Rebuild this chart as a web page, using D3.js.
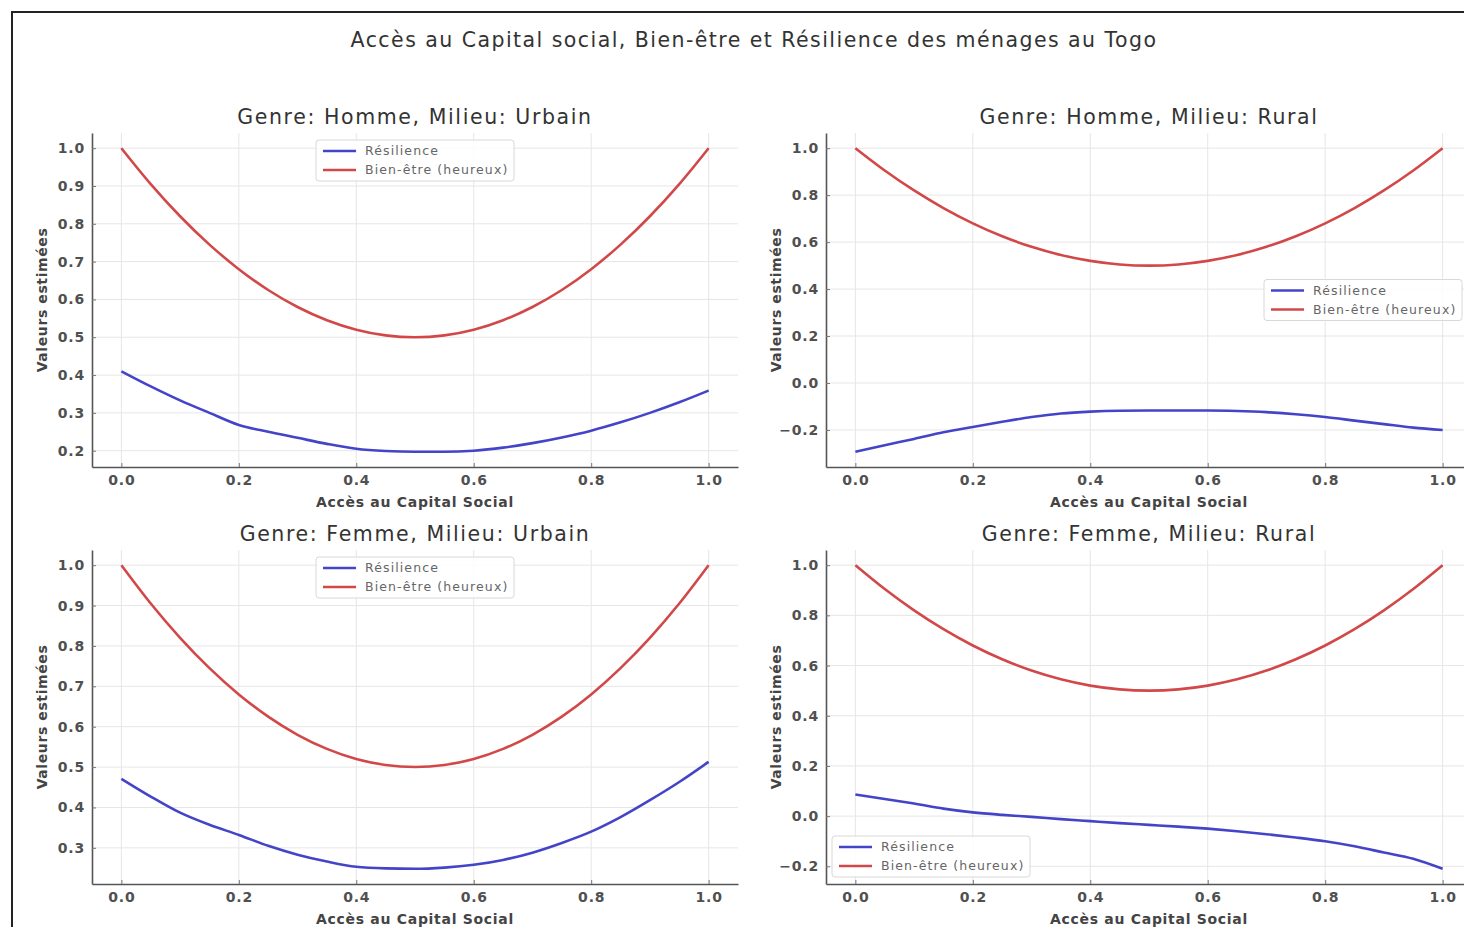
<!DOCTYPE html>
<html>
<head>
<meta charset="utf-8">
<script src="https://cdn.jsdelivr.net/npm/d3@7"></script>
<style>
  body { margin: 0; background: #fff; }
  svg text { font-family: "DejaVu Sans", sans-serif; }
</style>
</head>
<body>
<script>
const mainTitle = "Accès au Capital social, Bien-être et Résilience des ménages au Togo";
const seriesNames = ["Résilience", "Bien-être (heureux)"];
const xLabel = "Accès au Capital Social";
const yLabel = "Valeurs estimées";

const acces = [0, 0.05, 0.1, 0.15, 0.2, 0.25, 0.3, 0.35, 0.4, 0.45, 0.5,
  0.55, 0.6, 0.65, 0.7, 0.75, 0.8, 0.85, 0.9, 0.95, 1.0];
const xTicks = [0, 0.2, 0.4, 0.6, 0.8, 1.0];

// bien-être (same shape everywhere)
const bienEtre = [1.0, 0.905, 0.82, 0.745, 0.68, 0.625, 0.58, 0.545, 0.52, 0.505, 0.5,
  0.505, 0.52, 0.545, 0.58, 0.625, 0.68, 0.745, 0.82, 0.905, 1.0];

const resHommeUrbain = [0.41, 0.37, 0.333, 0.30, 0.268, 0.25, 0.234, 0.218, 0.205, 0.199, 0.197,
  0.197, 0.20, 0.208, 0.22, 0.235, 0.253, 0.275, 0.30, 0.328, 0.359];
const resHommeRural = [-0.293, -0.265, -0.238, -0.21, -0.187, -0.165, -0.145, -0.13, -0.122, -0.118, -0.117,
  -0.117, -0.117, -0.119, -0.124, -0.133, -0.145, -0.16, -0.175, -0.19, -0.2];
const resFemmeUrbain = [0.471, 0.427, 0.387, 0.357, 0.332, 0.305, 0.283, 0.266, 0.253, 0.249, 0.248,
  0.251, 0.258, 0.27, 0.288, 0.312, 0.34, 0.376, 0.418, 0.463, 0.513];
const resFemmeRural = [0.086, 0.068, 0.05, 0.03, 0.015, 0.005, -0.003, -0.012, -0.02, -0.028, -0.035,
  -0.042, -0.05, -0.06, -0.072, -0.085, -0.10, -0.12, -0.145, -0.17, -0.21];

const panelTitles = [
  "Genre: Homme, Milieu: Urbain", "Genre: Homme, Milieu: Rural",
  "Genre: Femme, Milieu: Urbain", "Genre: Femme, Milieu: Rural"
];
const yTicks = [
  [0.2, 0.3, 0.4, 0.5, 0.6, 0.7, 0.8, 0.9, 1.0],
  [-0.2, 0, 0.2, 0.4, 0.6, 0.8, 1.0],
  [0.3, 0.4, 0.5, 0.6, 0.7, 0.8, 0.9, 1.0],
  [-0.2, 0, 0.2, 0.4, 0.6, 0.8, 1.0]
];
const resilience = [resHommeUrbain, resHommeRural, resFemmeUrbain, resFemmeRural];
const legendPos = ["upper center", "center right", "upper center", "lower left"];

const W = 1464, H = 927;
const colors = ["#4444c8", "#d24848"];
const axW = 646, axH = 334;
const origins = [[92, 133], [826, 133], [92, 550], [826, 550]];

const svg = d3.select("body").append("svg")
  .attr("width", W).attr("height", H)
  .style("display", "block");

svg.append("rect").attr("width", W).attr("height", H).attr("fill", "#fff");

// outer frame (top & left visible)
svg.append("path")
  .attr("d", `M12,${H} L12,12 L${W},12`)
  .attr("fill", "none").attr("stroke", "#222").attr("stroke-width", 2);

svg.append("text")
  .attr("x", 754).attr("y", 47)
  .attr("text-anchor", "middle")
  .attr("font-size", 20.5).attr("fill", "#333")
  .attr("letter-spacing", 1.45)
  .text(mainTitle);

const fmt = d3.format(".1f");

panelTitles.forEach((title, i) => {
  const [ox, oy] = origins[i];
  const series = [resilience[i], bienEtre];
  const allVals = series.flat();
  const lo = d3.min(allVals), hi = d3.max(allVals);
  const pad = (hi - lo) * 0.05;

  const x = d3.scaleLinear().domain([-0.05, 1.05]).range([0, axW]);
  const y = d3.scaleLinear().domain([lo - pad, hi + pad]).range([axH, 0]);

  const g = svg.append("g").attr("transform", `translate(${ox},${oy})`);

  // grid
  g.append("g").selectAll("line").data(xTicks).join("line")
    .attr("x1", d => x(d)).attr("x2", d => x(d))
    .attr("y1", 0).attr("y2", axH)
    .attr("stroke", "#e6e6e6").attr("stroke-width", 1);
  g.append("g").selectAll("line").data(yTicks[i]).join("line")
    .attr("x1", 0).attr("x2", axW)
    .attr("y1", d => y(d)).attr("y2", d => y(d))
    .attr("stroke", "#e6e6e6").attr("stroke-width", 1);

  // axes
  const xAxis = g.append("g").attr("transform", `translate(0,${axH})`)
    .call(d3.axisBottom(x).tickValues(xTicks).tickFormat(fmt).tickSizeInner(-4).tickSizeOuter(0).tickPadding(8));
  const yAxis = g.append("g")
    .call(d3.axisLeft(y).tickValues(yTicks[i]).tickFormat(fmt).tickSizeInner(-4).tickSizeOuter(0).tickPadding(7));
  [xAxis, yAxis].forEach(a => {
    a.select(".domain").attr("stroke", "#555").attr("stroke-width", 1.6);
    a.selectAll(".tick line").attr("stroke", "#777");
    a.selectAll(".tick text").attr("fill", "#505050").attr("font-size", 14)
      .attr("font-weight", "bold").attr("letter-spacing", 0.8)
      .style("font-family", "'DejaVu Sans', sans-serif");
  });

  // titles
  g.append("text")
    .attr("x", axW / 2).attr("y", -9)
    .attr("text-anchor", "middle")
    .attr("font-size", 20.5).attr("fill", "#333")
    .attr("letter-spacing", 1.6)
    .text(title);
  g.append("text")
    .attr("x", axW / 2).attr("y", axH + 40)
    .attr("text-anchor", "middle")
    .attr("font-size", 14).attr("font-weight", "bold").attr("fill", "#444")
    .attr("letter-spacing", 0.7)
    .text(xLabel);
  g.append("text")
    .attr("transform", `translate(${-45},${axH / 2}) rotate(-90)`)
    .attr("text-anchor", "middle")
    .attr("font-size", 14).attr("font-weight", "bold").attr("fill", "#444")
    .attr("letter-spacing", 0.6)
    .text(yLabel);

  // lines
  const line = d3.line()
    .x((d, k) => x(acces[k]))
    .y(d => y(d))
    .curve(d3.curveMonotoneX);
  series.forEach((vals, s) => {
    g.append("path")
      .datum(vals)
      .attr("fill", "none")
      .attr("stroke", colors[s])
      .attr("stroke-width", 2.6)
      .attr("d", line);
  });

  // legend
  const lw = 198, lh = 41;
  let lx, ly;
  if (legendPos[i] === "upper center") { lx = axW / 2 - lw / 2; ly = 7; }
  else if (legendPos[i] === "center right") { lx = axW - lw - 10; ly = axH / 2 - lh / 2; }
  else { lx = 6; ly = axH - lh - 7; }
  const leg = g.append("g").attr("transform", `translate(${lx},${ly})`);
  leg.append("rect")
    .attr("width", lw).attr("height", lh).attr("rx", 3)
    .attr("fill", "#fff").attr("fill-opacity", 0.85)
    .attr("stroke", "#d8d8d8");
  seriesNames.forEach((name, s) => {
    const yy = 11 + s * 19;
    leg.append("line")
      .attr("x1", 7).attr("x2", 40).attr("y1", yy).attr("y2", yy)
      .attr("stroke", colors[s]).attr("stroke-width", 2.6);
    leg.append("text")
      .attr("x", 49).attr("y", yy + 4)
      .attr("font-size", 12.5).attr("fill", "#666")
      .attr("letter-spacing", 1.1)
      .text(name);
  });
});
</script>
</body>
</html>
